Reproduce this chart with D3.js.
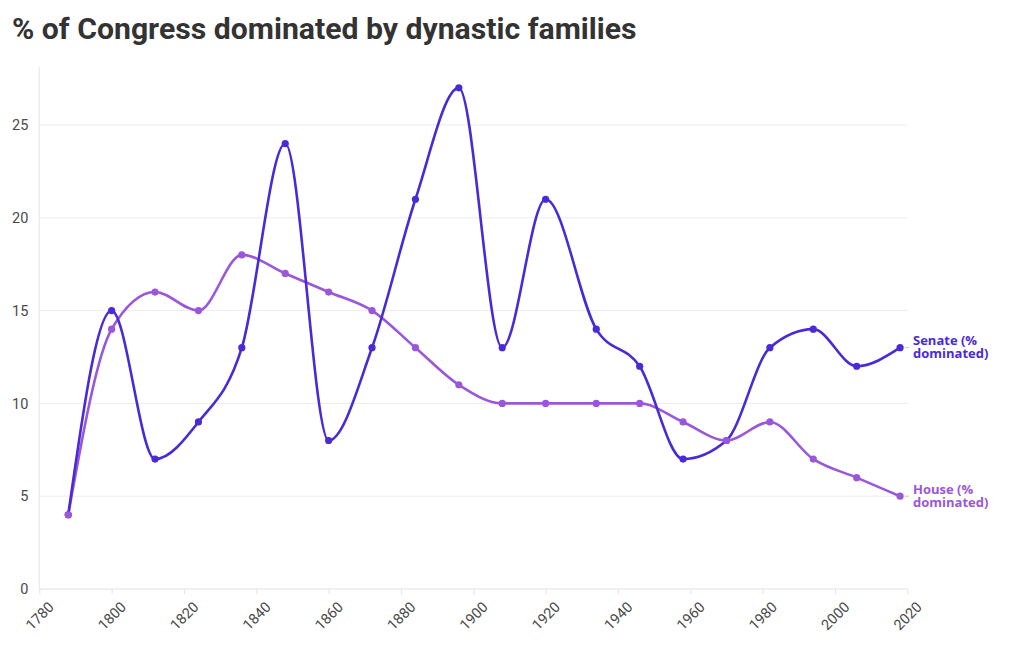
<!DOCTYPE html>
<html>
<head>
<meta charset="utf-8">
<script src="https://cdn.jsdelivr.net/npm/d3@7"></script>
<style>
  html, body { margin: 0; padding: 0; background: #fff; }
  svg { display: block; font-family: Roboto, "Noto Sans", sans-serif; }
</style>
</head>
<body>
<svg id="chart" width="1020" height="650"></svg>
<script>
const years = [1788, 1800, 1812, 1824, 1836, 1848, 1860, 1872, 1884, 1896, 1908, 1920, 1934, 1946, 1958, 1970, 1982, 1994, 2006, 2018];
const senate = [4, 15, 7, 9, 13, 24, 8, 13, 21, 27, 13, 21, 14, 12, 7, 8, 13, 14, 12, 13];
const house = [4, 14, 16, 15, 18, 17, 16, 15, 13, 11, 10, 10, 10, 10, 9, 8, 9, 7, 6, 5];
const xTicks = [1780, 1800, 1820, 1840, 1860, 1880, 1900, 1920, 1940, 1960, 1980, 2000, 2020];
const yTicks = [0, 5, 10, 15, 20, 25];
const seriesNames = [["Senate (%", "dominated)"], ["House (%", "dominated)"]];
const titleText = "% of Congress dominated by dynastic families";

const svg = d3.select("#chart");
const x = d3.scaleLinear().domain([1780, 2020]).range([39.3, 907.3]);
const y = d3.scaleLinear().domain([0, 28]).range([589, 69.3]);

svg.append("text")
  .attr("x", 12).attr("y", 39)
  .attr("font-size", 30.2).attr("font-weight", 700)
  .attr("fill", "#333")
  .text(titleText);

// grid
const grid = svg.append("g");
grid.selectAll("line.h").data(yTicks).join("line")
  .attr("x1", x(1780)).attr("x2", x(2020))
  .attr("y1", d => y(d)).attr("y2", d => y(d))
  .attr("stroke", d => d === 0 ? "#e2e2e2" : "#ececec").attr("stroke-width", 1);
grid.append("line")
  .attr("x1", x(1780)).attr("x2", x(1780))
  .attr("y1", 67).attr("y2", y(0))
  .attr("stroke", "#e6e6e6");

// y axis
const yAxis = svg.append("g").attr("transform", `translate(${x(1780)},0)`)
  .call(d3.axisLeft(y).tickValues(yTicks).tickSize(0).tickPadding(11));
yAxis.select(".domain").remove();
yAxis.selectAll("text").attr("font-size", 14.5).attr("fill", "#4a4a4a")
  .attr("font-family", "Roboto, 'Noto Sans', sans-serif");

// x axis
const xAxis = svg.append("g").attr("transform", `translate(0,${y(0)})`)
  .call(d3.axisBottom(x).tickValues(xTicks).tickFormat(d3.format("d")).tickSize(5).tickPadding(4));
xAxis.select(".domain").remove();
xAxis.selectAll(".tick line").attr("stroke", "#e2e2e2");
xAxis.selectAll("text")
  .attr("font-size", 14.5).attr("fill", "#4a4a4a")
  .attr("font-family", "Roboto, 'Noto Sans', sans-serif")
  .attr("text-anchor", "end")
  .attr("dy", "0.35em")
  .attr("transform", "translate(5,9) rotate(-45)");

const colors = ["#4a2ad6", "#9a57da"];
const data = [senate, house];
const line = d3.line().x((d, i) => x(years[i])).y(d => y(d)).curve(d3.curveMonotoneX);

[1, 0].forEach(k => {
  svg.append("path").datum(data[k])
    .attr("d", line).attr("fill", "none")
    .attr("stroke", colors[k]).attr("stroke-width", 2.6)
    .attr("stroke-linejoin", "round").attr("stroke-linecap", "round");
});
[0, 1].forEach(k => {
  const g = svg.append("g");
  g.selectAll("circle").data(data[k]).join("circle")
    .attr("cx", (d, i) => x(years[i])).attr("cy", d => y(d))
    .attr("r", 3.6).attr("fill", colors[k]);
  const last = data[k][data[k].length - 1];
  const ly = y(last);
  g.append("line").attr("x1", x(2018) + 5).attr("x2", x(2018) + 9)
    .attr("y1", ly).attr("y2", ly).attr("stroke", "#c8c8c8").attr("stroke-width", 1);
  const t = g.append("text").attr("x", 913).attr("y", ly - 2.5)
    .attr("font-size", 13).attr("font-weight", 700).attr("fill", colors[k])
    .attr("font-family", "'Open Sans', Roboto, sans-serif");
  seriesNames[k].forEach((s, j) => {
    t.append("tspan").attr("x", 913).attr("dy", j === 0 ? 0 : 13).text(s);
  });
});
</script>
</body>
</html>
